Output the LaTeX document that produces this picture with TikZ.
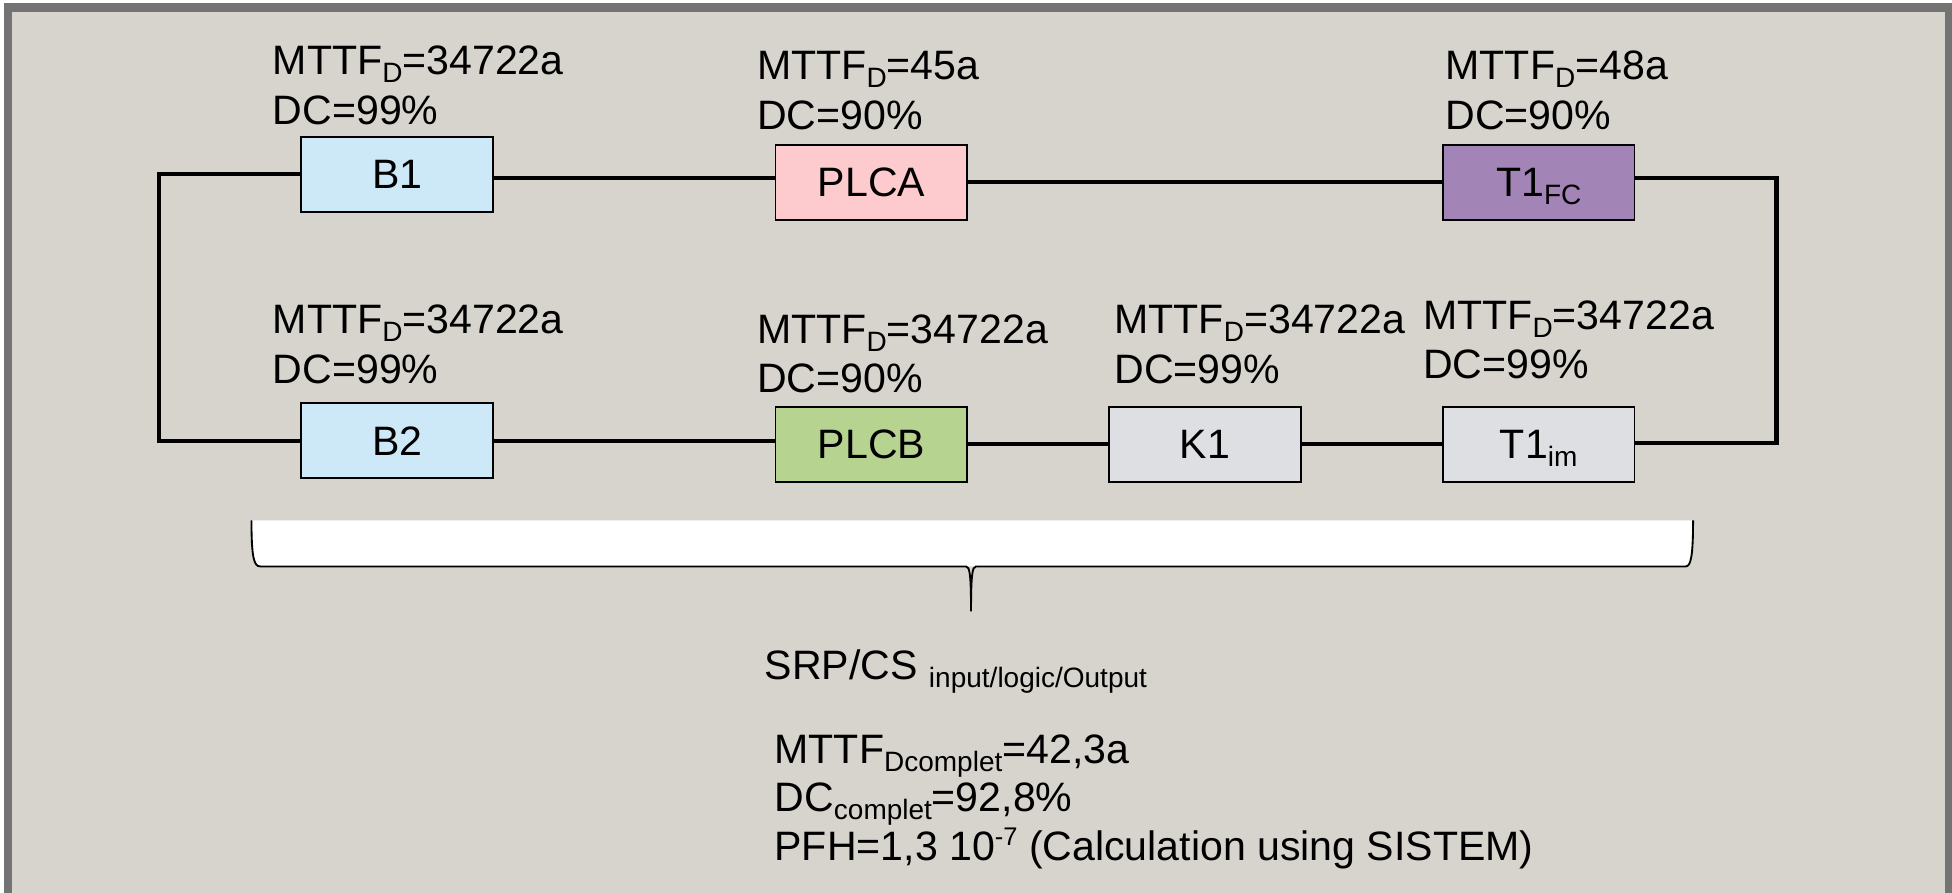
\documentclass[tikz,border=0pt]{standalone}
\usepackage{fontspec}
\setmainfont{Liberation Sans}

\definecolor{panelbg}{HTML}{D7D4CD}
\definecolor{panelframe}{HTML}{737373}
\definecolor{inputblue}{HTML}{CDE8F6}
\definecolor{logicpink}{HTML}{FDCBCD}
\definecolor{fcpurple}{HTML}{A384B6}
\definecolor{logicgreen}{HTML}{B6D48F}
\definecolor{outgrey}{HTML}{DEDFE3}

% lowered index and raised exponent for the annotations
\newcommand{\lowtext}[1]{\smash{\raisebox{-6.5pt}{\fontsize{22.5}{22.5}\selectfont #1}}}
\newcommand{\hightext}[1]{\raisebox{11.5pt}{\fontsize{20.5}{20.5}\selectfont #1}}

\tikzset{
  lbl/.style={anchor=base west, inner sep=0pt, font=\fontsize{33}{39}\selectfont},
  unit/.style={draw=black, line width=1.4pt, minimum width=154pt, minimum height=60pt,
               inner sep=0pt, font=\fontsize{33}{39}\selectfont},
  wire/.style={line width=3.3pt, line join=miter},
  bracepath/.style={line width=1.5pt}
}

\begin{document}
\begin{tikzpicture}[x=1pt, y=-1pt]
  \useasboundingbox (0,0) rectangle (1568,717);

  % panel with its grey frame
  \fill[white] (0,0) rectangle (1568,717);
  \fill[panelframe] (3.2,2.4) rectangle (1568,717);
  \fill[panelbg] (9.6,9.6) rectangle (1562.5,717);

  % channel 1
  \node[unit, fill=inputblue]  (B1)   at (319,140)   {B1};
  \node[unit, fill=logicpink]  (PLCA) at (700,146.5) {PLCA};
  \node[unit, fill=fcpurple]   (T1FC) at (1236,146.5) {T1\lowtext{FC}};

  % channel 2
  \node[unit, fill=inputblue]  (B2)   at (319,354)   {B2};
  \node[unit, fill=logicgreen] (PLCB) at (700,357)   {PLCB};
  \node[unit, fill=outgrey]    (K1)   at (968,357)   {K1};
  \node[unit, fill=outgrey]    (T1im) at (1236,357)  {T1\lowtext{im}};

  % reliability data of each block
  \node[lbl] (B1m)   at (219,60)   {MTTF\lowtext{D}=34722a};
  \node[lbl] (B1d)   at (219,100)  {DC=99\%};
  \node[lbl] (PLCAm) at (608,64)   {MTTF\lowtext{D}=45a};
  \node[lbl] (PLCAd) at (608,104)  {DC=90\%};
  \node[lbl] (T1FCm) at (1161,64)  {MTTF\lowtext{D}=48a};
  \node[lbl] (T1FCd) at (1161,104) {DC=90\%};

  \node[lbl] (B2m)   at (219,268)  {MTTF\lowtext{D}=34722a};
  \node[lbl] (B2d)   at (219,308)  {DC=99\%};
  \node[lbl] (PLCBm) at (608,276)  {MTTF\lowtext{D}=34722a};
  \node[lbl] (PLCBd) at (608,315)  {DC=90\%};
  \node[lbl] (K1m)   at (895,268)  {MTTF\lowtext{D}=34722a};
  \node[lbl] (K1d)   at (895,308)  {DC=99\%};
  \node[lbl] (T1imm) at (1143,265) {MTTF\lowtext{D}=34722a};
  \node[lbl] (T1imd) at (1143,304) {DC=99\%};

  % wiring of the two channels
  \coordinate (tl) at (128,140);
  \coordinate (bl) at (128,354);
  \coordinate (tr) at (1427,143);
  \coordinate (br) at (1427,356);

  \draw[wire] (B1.west) -- (tl) -- (bl) -- (B2.west);
  \draw[wire] ([yshift=-3pt]B1.east) -- ([yshift=-3pt]B1.east -| PLCA.west);
  \draw[wire] (PLCA.east) -- (T1FC.west);
  \draw[wire] (T1FC.east |- tr) -- (tr) -- (br) -- (br -| T1im.east);
  \draw[wire] (B2.east) -- (B2.east -| PLCB.west);
  \draw[wire] (PLCB.east) -- (K1.west);
  \draw[wire] (K1.east) -- (T1im.west);

  % brace grouping the whole system
  \fill[white] (202,418) .. controls (202,448) and (204,455) .. (209,455)
    -- (1354,455) .. controls (1358,455) and (1360,448) .. (1360,418) -- cycle;
  \draw[bracepath] (202,418) .. controls (202,448) and (204,455) .. (209,455)
    -- (776,455) .. controls (779,455) and (780,462) .. (780,491)
    .. controls (780,462) and (781,455) .. (784,455)
    -- (1354,455) .. controls (1358,455) and (1360,448) .. (1360,418);

  % results for the complete system
  \node[lbl] (srp)   at (614,546) {SRP/CS \lowtext{input/logic/Output}};
  \node[lbl] (mttfc) at (622,613) {MTTF\lowtext{Dcomplet}=42,3a};
  \node[lbl] (dcc)   at (622,652) {DC\lowtext{complet}=92,8\%};
  \node[lbl] (pfh)   at (622,691) {PFH=1,3 10\hightext{-7} (Calculation using SISTEM)};
\end{tikzpicture}
\end{document}
